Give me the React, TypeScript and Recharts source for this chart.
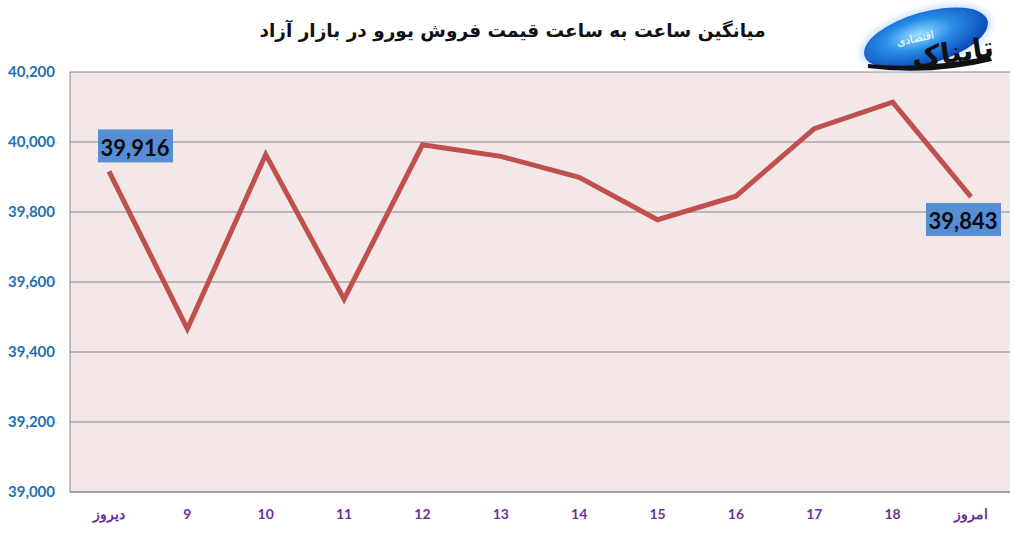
import { LineChart, Line, XAxis, YAxis, CartesianGrid, LabelList } from 'recharts';

// hourly averages, from yesterday to today
const hours = ['دیروز', '9', '10', '11', '12', '13', '14', '15', '16', '17', '18', 'امروز'];
const prices = [39916, 39466, 39964, 39551, 39992, 39959, 39899, 39778, 39845, 40038, 40114, 39843];
const yTicks = [39000, 39200, 39400, 39600, 39800, 40000, 40200];
const title = 'میانگین ساعت به ساعت قیمت فروش یورو در بازار آزاد';

const data = hours.map((hour, i) => ({ hour, price: prices[i] }));

const fmt = (v: number) => v.toLocaleString('en-US');

// only the first and last points carry a value tag
const PriceTag = (props: any) => {
  const { x, y, value, index } = props;
  const last = prices.length - 1;
  if (index !== 0 && index !== last) return null;
  const first = index === 0;
  const cx = x + (first ? 26 : -8);
  const cy = y + (first ? -25 : 23);
  return (
    <g>
      <rect x={cx - 37} y={cy - 17} width={75} height={33} fill="#558ed5" />
      <text
        x={cx}
        y={cy + 1}
        textAnchor="middle"
        dominantBaseline="central"
        fontFamily="Lato, sans-serif"
        fontWeight="bold"
        fontSize={22}
        fill="#0a0a0a"
      >
        {fmt(value)}
      </text>
    </g>
  );
};

const Logo = () => (
  <svg width={169} height={80} style={{ position: 'absolute', left: 850, top: 0 }}>
    <defs>
      <radialGradient id="logoBlue" cx="45%" cy="40%" r="60%">
        <stop offset="0%" stopColor="#9be0ff" />
        <stop offset="45%" stopColor="#2a8fe8" />
        <stop offset="100%" stopColor="#0b47b8" />
      </radialGradient>
      <filter id="glow" x="-20%" y="-20%" width="140%" height="140%">
        <feGaussianBlur stdDeviation="3" />
      </filter>
    </defs>
    <ellipse cx={76} cy={38} rx={68} ry={29} fill="#cfe3ff" filter="url(#glow)" transform="rotate(-16 76 38)" />
    <ellipse cx={76} cy={38} rx={64} ry={26} fill="url(#logoBlue)" transform="rotate(-16 76 38)" />
    <path d="M18 64 Q70 70 140 56 L142 61 Q80 76 18 68 Z" fill="#111" />
    <text
      x={104}
      y={62}
      textAnchor="middle"
      fontFamily="DejaVu Sans, sans-serif"
      fontWeight="bold"
      fontSize={28}
      fill="#111"
      transform="rotate(-8 104 62)"
    >
      تابناک
    </text>
    <text
      x={66}
      y={42}
      textAnchor="middle"
      fontFamily="DejaVu Sans, sans-serif"
      fontSize={11}
      fill="#fff"
      transform="rotate(-12 66 42)"
    >
      اقتصادی
    </text>
  </svg>
);

export default function App() {
  return (
    <div style={{ position: 'relative', width: 1019, height: 533, background: '#fff' }}>
      <style>{'body{margin:0}'}</style>
      <LineChart width={1019} height={533} data={data} margin={{ top: 72, right: 9, bottom: 0, left: 0 }}>
        <CartesianGrid vertical={false} stroke="#868686" fill="#f3e7e8" />
        <XAxis
          dataKey="hour"
          height={41}
          padding={{ left: 39, right: 39 }}
          axisLine={{ stroke: '#868686' }}
          tickLine={false}
          tickSize={0}
          tickMargin={17}
          interval={0}
          tick={{ fill: '#7030a0', fontSize: 14, fontWeight: 'bold', fontFamily: 'Lato, sans-serif' }}
        />
        <YAxis
          width={70}
          domain={[39000, 40200]}
          ticks={yTicks}
          tickFormatter={fmt}
          axisLine={{ stroke: '#868686' }}
          tickLine={false}
          tickSize={0}
          tickMargin={15}
          tick={{ fill: '#1f6fb2', fontSize: 15, fontWeight: 'bold', fontFamily: 'Lato, sans-serif' }}
        />
        <Line
          type="linear"
          dataKey="price"
          stroke="#c0504d"
          strokeWidth={5}
          dot={false}
          isAnimationActive={false}
        >
          <LabelList dataKey="price" content={PriceTag} />
        </Line>
      </LineChart>
      <div
        style={{
          position: 'absolute',
          left: 0,
          top: 20,
          width: 1025,
          textAlign: 'center',
          direction: 'rtl',
          fontFamily: 'DejaVu Sans, sans-serif',
          fontWeight: 'bold',
          fontSize: 18.5,
          color: '#111',
        }}
      >
        {title}
      </div>
      <Logo />
    </div>
  );
}
